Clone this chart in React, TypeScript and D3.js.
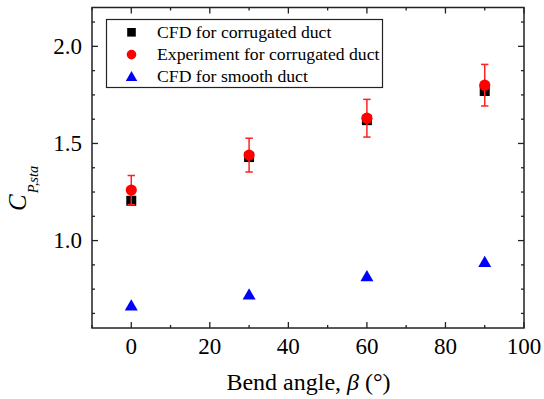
import React from "react";
import * as d3 from "d3";

const angles = [0, 30, 60, 90];
const cfdCorrugated = [1.205, 1.43, 1.62, 1.77];
const expCorrugated = [1.26, 1.44, 1.63, 1.80];
const expError = [0.075, 0.087, 0.097, 0.107];
const cfdSmooth = [0.663, 0.72, 0.814, 0.887];
const xTicks = [0, 20, 40, 60, 80, 100];
const xMinor = [-10, 10, 30, 50, 70, 90];
const yTicks = [1.0, 1.5, 2.0];
const yMinor = [0.625, 0.75, 0.875, 1.125, 1.25, 1.375, 1.625, 1.75, 1.875, 2.125];
const legendLabels = ["CFD for corrugated duct", "Experiment for corrugated duct", "CFD for smooth duct"];

const W = 544, H = 399;
const L = 92, R = 524, T = 7.5, B = 328;
const FONT = "Liberation Serif";

export default function App() {
  const x = d3.scaleLinear().domain([-10, 100]).range([L, R]);
  const y = d3.scaleLinear().domain([0.55, 2.2]).range([B, T]);
  const axisColor = "#222";
  const tri = (cx: number, cy: number, s: number) => {
    const h = s * 0.866;
    return `M${cx},${cy - h * 0.6}L${cx + s / 2},${cy + h * 0.4}L${cx - s / 2},${cy + h * 0.4}Z`;
  };
  const sq = 10;
  const ts = { fontFamily: FONT };
  const legendY = [32.3, 54.6, 76.9];
  return (
    <svg width={W} height={H} style={{ position: "absolute", left: 0, top: 0, background: "#fff" }}>
      <rect x={0} y={0} width={W} height={H} fill="#fff" />
      {xTicks.map((t) => (
        <g key={"xt" + t}>
          <line x1={x(t)} x2={x(t)} y1={B} y2={B - 6} stroke={axisColor} strokeWidth={1.3} />
          <line x1={x(t)} x2={x(t)} y1={T} y2={T + 6} stroke={axisColor} strokeWidth={1.3} />
          <text x={x(t)} y={354} textAnchor="middle" fontSize={23} fill="#000" style={ts}>{t}</text>
        </g>
      ))}
      {xMinor.map((t) => (
        <g key={"xm" + t}>
          <line x1={x(t)} x2={x(t)} y1={B} y2={B - 3} stroke={axisColor} strokeWidth={1.3} />
          <line x1={x(t)} x2={x(t)} y1={T} y2={T + 3} stroke={axisColor} strokeWidth={1.3} />
        </g>
      ))}
      {yTicks.map((t) => (
        <g key={"yt" + t}>
          <line x1={L} x2={L + 6} y1={y(t)} y2={y(t)} stroke={axisColor} strokeWidth={1.3} />
          <line x1={R} x2={R - 6} y1={y(t)} y2={y(t)} stroke={axisColor} strokeWidth={1.3} />
          <text x={82} y={y(t) + 7.8} textAnchor="end" fontSize={23} fill="#000" style={ts}>{t.toFixed(1)}</text>
        </g>
      ))}
      {yMinor.map((t) => (
        <g key={"ym" + t}>
          <line x1={L} x2={L + 3} y1={y(t)} y2={y(t)} stroke={axisColor} strokeWidth={1.3} />
          <line x1={R} x2={R - 3} y1={y(t)} y2={y(t)} stroke={axisColor} strokeWidth={1.3} />
        </g>
      ))}
      <rect x={L} y={T} width={R - L} height={B - T} fill="none" stroke={axisColor} strokeWidth={1.5} />

      {angles.map((a, i) => (
        <rect key={"s" + a} x={x(a) - sq / 2} y={y(cfdCorrugated[i]) - sq / 2} width={sq} height={sq} fill="#000" />
      ))}
      {angles.map((a, i) => {
        const cx = x(a);
        const top = y(expCorrugated[i] + expError[i]);
        const bot = y(expCorrugated[i] - expError[i]);
        return (
          <g key={"e" + a} stroke="#ff2020" strokeWidth={1.5}>
            <line x1={cx} x2={cx} y1={top} y2={bot} />
            <line x1={cx - 3.7} x2={cx + 3.7} y1={top} y2={top} />
            <line x1={cx - 3.7} x2={cx + 3.7} y1={bot} y2={bot} />
          </g>
        );
      })}
      {angles.map((a, i) => (
        <circle key={"c" + a} cx={x(a)} cy={y(expCorrugated[i])} r={5.6} fill="#ff0000" />
      ))}
      {angles.map((a, i) => (
        <path key={"t" + a} d={tri(x(a), y(cfdSmooth[i]), 13)} fill="#0000ff" />
      ))}

      <rect x={106.5} y={19.5} width={276} height={68} fill="#fff" stroke="#222" strokeWidth={1.2} />
      <rect x={131.5 - 4.3} y={legendY[0] - 4.3} width={8.6} height={8.6} fill="#000" />
      <circle cx={131.5} cy={legendY[1]} r={4.8} fill="#ff0000" />
      <path d={tri(131.5, legendY[2], 11.5)} fill="#0000ff" />
      {legendLabels.map((l, i) => (
        <text key={l} x={157} y={37.7 + i * 22.3} fontSize={17.7} fill="#000" style={ts}>{l}</text>
      ))}

      <text x={308.5} y={390} textAnchor="middle" fontSize={24} fill="#000" style={ts}>
        Bend angle, <tspan fontStyle="italic">β</tspan> (°)
      </text>
      <text transform="translate(26,211) rotate(-90)" fontSize={25} fill="#000" style={ts}>
        <tspan fontStyle="italic">C</tspan>
        <tspan fontStyle="italic" fontSize={14.5} dy={12} dx={1}>P,sta</tspan>
      </text>
    </svg>
  );
}
